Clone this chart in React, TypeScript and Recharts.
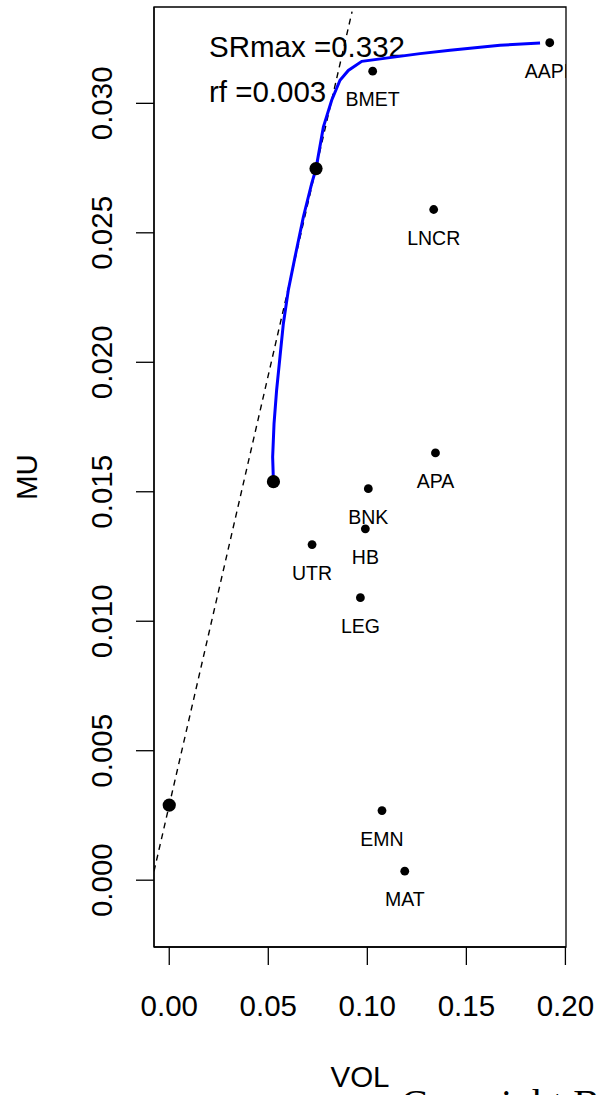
import React from "react";
import { ScatterChart, Scatter, XAxis, YAxis, ReferenceArea } from "recharts";

// ---------- data ----------
const assetNames = ["AAPL", "BMET", "LNCR", "APA", "BNK", "HB", "UTR", "LEG", "EMN", "MAT"];
const assetVol = [0.1921, 0.1027, 0.1335, 0.1344, 0.1005, 0.099, 0.0721, 0.0965, 0.1074, 0.1189];
const assetMu = [0.03234, 0.03124, 0.0259, 0.0165, 0.01512, 0.01357, 0.01296, 0.01091, 0.00269, 0.00035];

const frontierVol = [0.0526, 0.0522, 0.0529, 0.0542, 0.0559, 0.0576, 0.0601, 0.0635, 0.0677, 0.0719, 0.0741, 0.0778, 0.082, 0.0862, 0.0904, 0.0972, 0.1266, 0.1418, 0.167, 0.1872];
const frontierMu = [0.01539, 0.01634, 0.01763, 0.01892, 0.02021, 0.02149, 0.02278, 0.02407, 0.02561, 0.0269, 0.02748, 0.02908, 0.03012, 0.03089, 0.03127, 0.03162, 0.03192, 0.03205, 0.03224, 0.03233];

const specialVol = [0, 0.0526, 0.0741];
const specialMu = [0.0029, 0.01539, 0.02748];

const RF = 0.0029;
const SR_MAX = 0.332;

const xTicks = [0, 0.05, 0.1, 0.15, 0.2];
const yTicks = [0, 0.005, 0.01, 0.015, 0.02, 0.025, 0.03];
const X_DOMAIN: [number, number] = [-0.0077, 0.2003];
const Y_DOMAIN: [number, number] = [-0.00258, 0.03372];

// ---------- layout ----------
const W = 597;
const H = 1095;
const PLOT = { left: 154, top: 7, right: 566, bottom: 947 };
const FONT = "'Liberation Sans', Arial, Helvetica, sans-serif";
const AXIS_FS = 29.5;
const LABEL_FS = 19.5;

const assets = assetNames.map((n, i) => ({ name: n, x: assetVol[i], y: assetMu[i] }));
const frontier = frontierVol.map((v, i) => ({ x: v, y: frontierMu[i] }));
const specials = specialVol.map((v, i) => ({ x: v, y: specialMu[i] }));
const yEndLine = Y_DOMAIN[1] - 0.00018;
const xEnd = (yEndLine - RF) / SR_MAX;
const cml = [
  { x: X_DOMAIN[0], y: RF + SR_MAX * X_DOMAIN[0] },
  { x: xEnd, y: RF + SR_MAX * xEnd },
];

const XTick = (props: any) => {
  const { x, payload } = props;
  return (
    <text x={x} y={PLOT.bottom + 69} textAnchor="middle" fontSize={AXIS_FS} fontFamily={FONT} fill="#000">
      {Number(payload.value).toFixed(2)}
    </text>
  );
};

const YTick = (props: any) => {
  const { y, payload } = props;
  const tx = PLOT.left - 42;
  return (
    <text x={tx} y={y} transform={`rotate(-90, ${tx}, ${y})`} textAnchor="middle" fontSize={AXIS_FS} fontFamily={FONT} fill="#000">
      {Number(payload.value).toFixed(3)}
    </text>
  );
};

const AssetShape = (props: any) => {
  const { cx, cy, payload } = props;
  return (
    <g>
      <circle cx={cx} cy={cy} r={4.4} fill="#000" />
      <text x={cx} y={cy + 35} textAnchor="middle" fontSize={LABEL_FS} fontFamily={FONT} fill="#000" clipPath="url(#plotClip)">
        {payload.name}
      </text>
    </g>
  );
};

const BigShape = (props: any) => {
  const { cx, cy } = props;
  return <circle cx={cx} cy={cy} r={6.6} fill="#000" />;
};

const NoShape = () => <g />;

export default function App() {
  return (
    <div style={{ position: "absolute", left: 0, top: 0, width: W, height: H, background: "#fff" }}>
      <svg width={W} height={H} style={{ position: "absolute", left: 0, top: 0 }}>
        <defs>
          <clipPath id="plotClip" clipPathUnits="userSpaceOnUse">
            <rect x={PLOT.left} y={PLOT.top} width={PLOT.right - PLOT.left + 1} height={PLOT.bottom - PLOT.top} />
          </clipPath>
        </defs>
        <text x={209} y={57} fontSize={29.5} fontFamily={FONT} fill="#000">
          {`SRmax =${SR_MAX.toFixed(3)}`}
        </text>
        <text x={209} y={102} fontSize={29.5} fontFamily={FONT} fill="#000">
          {`rf =${RF.toFixed(3)}`}
        </text>
        <text x={37} y={(PLOT.top + PLOT.bottom) / 2} transform={`rotate(-90, 37, ${(PLOT.top + PLOT.bottom) / 2})`} textAnchor="middle" fontSize={29.5} fontFamily={FONT} fill="#000">
          MU
        </text>
        <text x={(PLOT.left + PLOT.right) / 2} y={1087} textAnchor="middle" fontSize={29.5} fontFamily={FONT} fill="#000">
          VOL
        </text>
        <text x={401} y={1117} fontSize={40} fontFamily="'Liberation Serif', 'Times New Roman', serif" fill="#000">
          Copyright B
        </text>
      </svg>
      <div style={{ position: "absolute", left: 0, top: 0 }}>
        <ScatterChart
          width={W}
          height={H}
          margin={{ top: PLOT.top, right: W - PLOT.right, bottom: H - PLOT.bottom - 60, left: PLOT.left - 60 }}
        >
          <XAxis
            type="number"
            dataKey="x"
            domain={X_DOMAIN}
            ticks={xTicks}
            allowDataOverflow
            height={60}
            tickSize={18}
            tickMargin={0}
            tick={XTick}
            axisLine={{ stroke: "#000", strokeWidth: 1.3 }}
            tickLine={{ stroke: "#000", strokeWidth: 1.3 }}
            interval={0}
          />
          <YAxis
            type="number"
            dataKey="y"
            domain={Y_DOMAIN}
            ticks={yTicks}
            allowDataOverflow
            width={60}
            tickSize={18}
            tickMargin={0}
            tick={YTick}
            axisLine={{ stroke: "#000", strokeWidth: 1.3 }}
            tickLine={{ stroke: "#000", strokeWidth: 1.3 }}
            interval={0}
          />
          <ReferenceArea
            x1={X_DOMAIN[0]}
            x2={X_DOMAIN[1]}
            y1={Y_DOMAIN[0]}
            y2={Y_DOMAIN[1]}
            fill="none"
            fillOpacity={0}
            stroke="#000"
            strokeWidth={1.3}
            ifOverflow="visible"
          />
          <Scatter
            data={cml}
            line={{ stroke: "#000", strokeWidth: 1.4, strokeDasharray: "6 5" }}
            lineType="joint"
            shape={NoShape}
            isAnimationActive={false}
          />
          <Scatter
            data={frontier}
            line={{ stroke: "#0000ff", strokeWidth: 3 }}
            lineType="joint"
            shape={NoShape}
            isAnimationActive={false}
          />
          <Scatter data={assets} shape={AssetShape} isAnimationActive={false} />
          <Scatter data={specials} shape={BigShape} isAnimationActive={false} />
        </ScatterChart>
      </div>
    </div>
  );
}
